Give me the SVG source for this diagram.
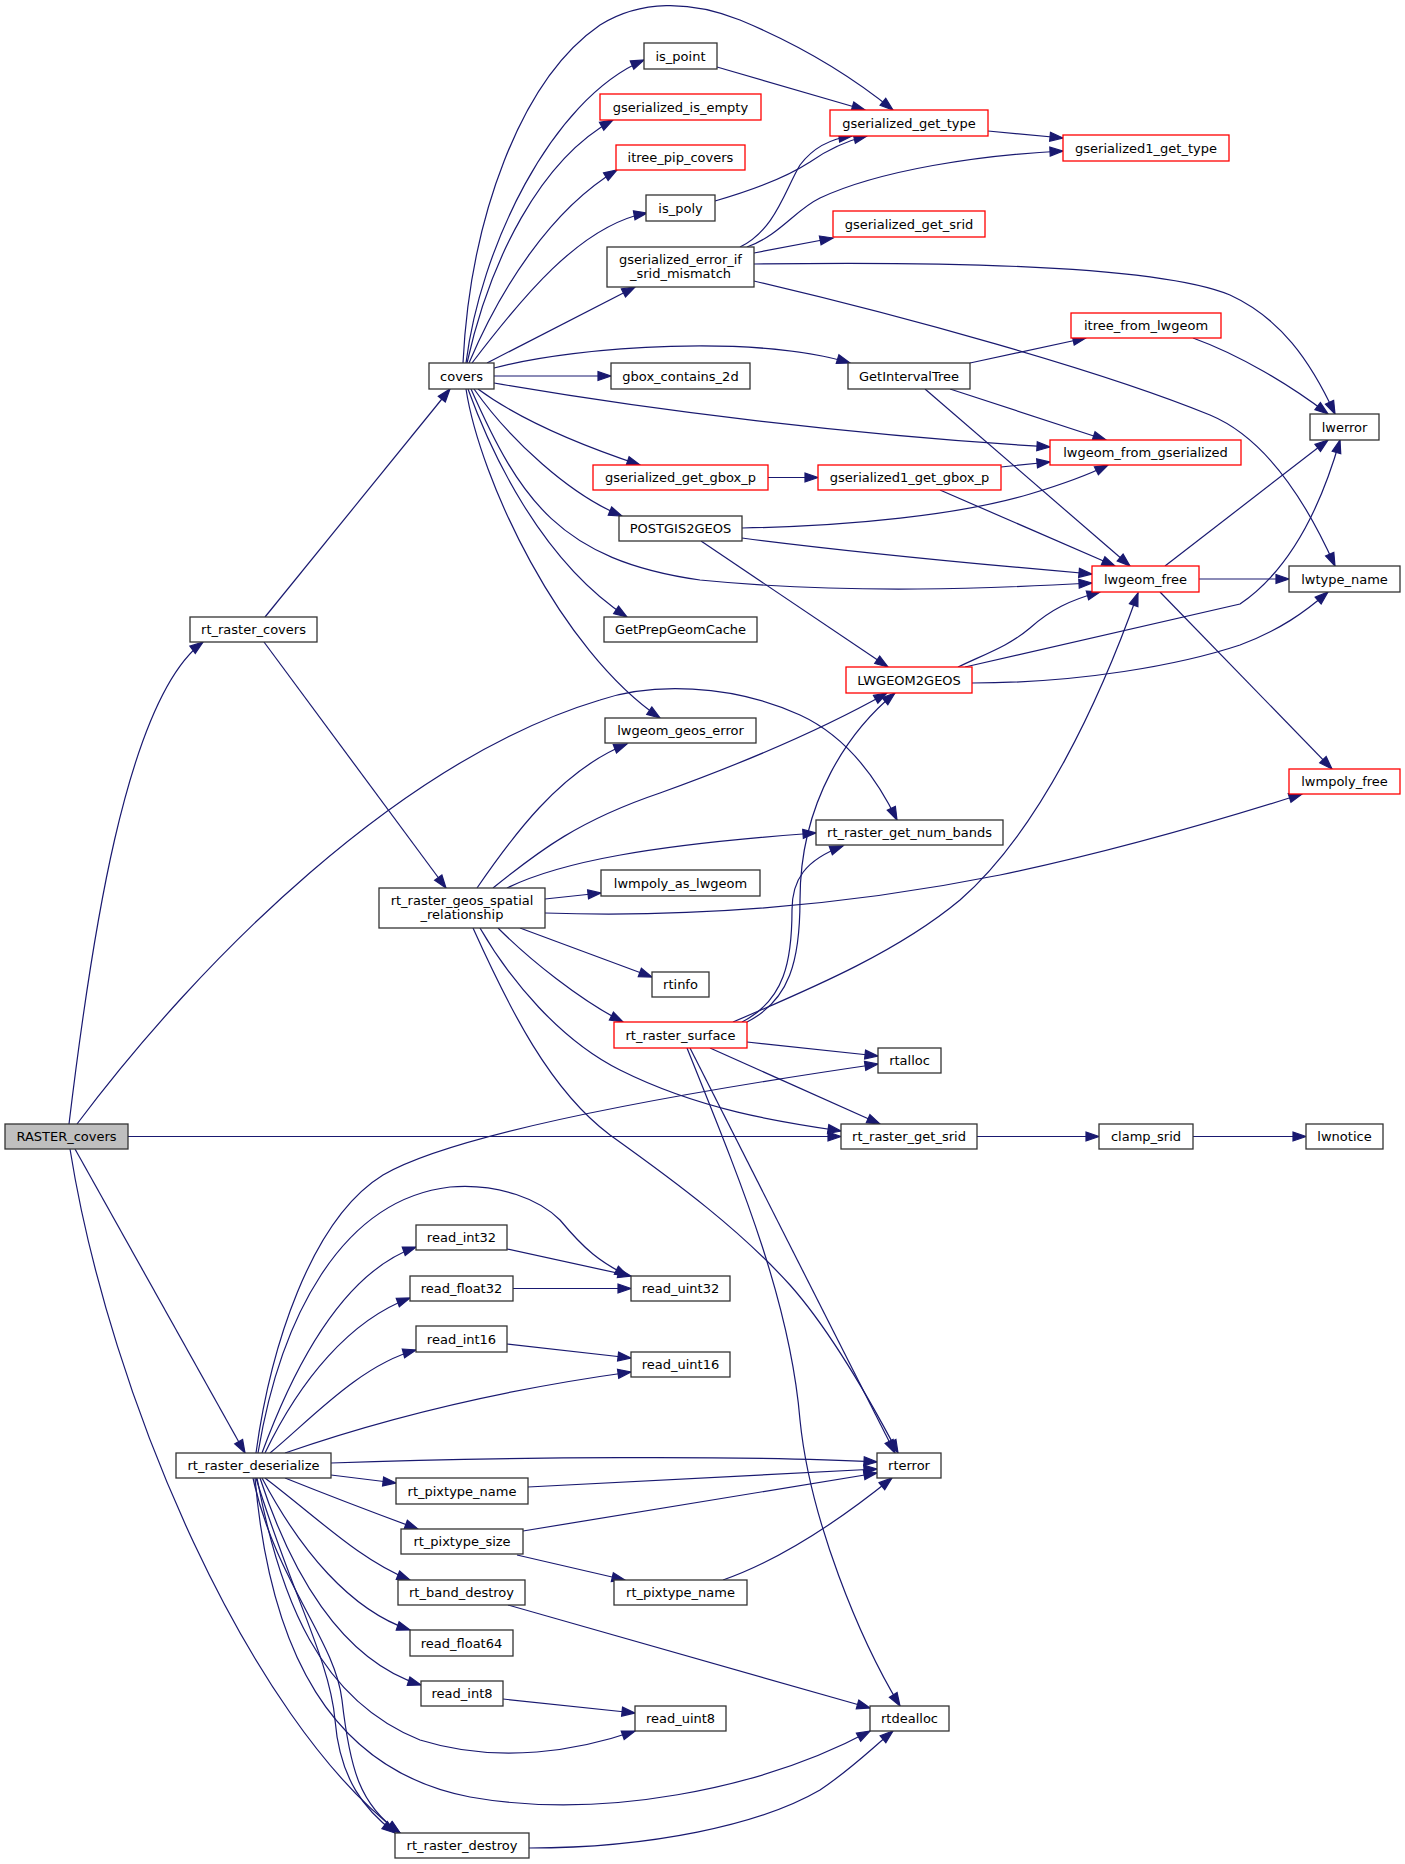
<svg xmlns="http://www.w3.org/2000/svg" width="1405" height="1864" viewBox="0 0 1405 1864">
<style>
.n rect{fill:#fff;stroke:#333333;stroke-width:1.3}
.n.r rect{stroke:#ff0000}
.n.root rect{fill:#bfbfbf}
.n text{font-family:"DejaVu Sans","Liberation Sans",sans-serif;font-size:13px;text-anchor:middle;fill:#000}
.e path{fill:none;stroke:#191970;stroke-width:1.2;marker-end:url(#a)}
</style>
<defs>
<marker id="a" markerUnits="userSpaceOnUse" markerWidth="14" markerHeight="11" refX="13" refY="5" orient="auto" overflow="visible">
<path d="M0,0.5 L13,5 L0,9.5 z" fill="#191970" stroke="#191970" stroke-width="1.2"/>
</marker>
</defs>
<rect width="1405" height="1864" fill="#fff"/>
<g id="edges" class="e">
<path d="M69,1124 C90,950 125,700 203,642"/>
<path d="M77,1124 C200,960 400,760 600,700 C650,683 730,683 800,715 C850,738 880,785 897,820"/>
<path d="M128,1136.5 L841,1136.5"/>
<path d="M75,1149 L245,1453"/>
<path d="M70,1149 C110,1400 250,1720 400,1833"/>
<path d="M265,617 L450,389"/>
<path d="M264,642 L446,888"/>
<path d="M463,363 C470,220 520,80 600,25 C640,0 690,0 740,20 C800,45 850,75 893,110"/>
<path d="M466,363 C480,250 550,100 644,60"/>
<path d="M467,363 C490,260 540,160 613,120"/>
<path d="M469,363 C500,290 550,210 617,170"/>
<path d="M472,363 C520,300 580,225 647,213"/>
<path d="M487,363 L635,287"/>
<path d="M494,368 C580,345 760,335 850,363"/>
<path d="M494,376 L611,376"/>
<path d="M494,383 C650,410 850,435 1050,447"/>
<path d="M478,389 C520,420 580,445 640,465"/>
<path d="M474,389 C510,440 570,495 622,516"/>
<path d="M471,389 C520,500 560,560 700,580 C850,595 1000,588 1092,583"/>
<path d="M468,389 C490,450 540,560 627,617"/>
<path d="M466,389 C480,480 560,650 660,718"/>
<path d="M717,67 L865,110"/>
<path d="M715,201 C760,188 790,175 810,162 C830,148 850,140 867,136"/>
<path d="M740,247 C775,230 785,190 800,165 C815,145 835,138 852,136"/>
<path d="M747,247 C780,235 795,210 820,198 C880,170 980,155 1063,151"/>
<path d="M754,253 L833,238"/>
<path d="M754,264 C900,262 1150,262 1230,295 C1280,318 1310,360 1335,414"/>
<path d="M754,281 C900,315 1100,370 1210,415 C1270,440 1310,510 1335,566"/>
<path d="M988,131 L1063,138"/>
<path d="M970,363 L1086,338"/>
<path d="M950,389 L1106,440"/>
<path d="M925,389 L1130,566"/>
<path d="M1193,338 C1240,355 1290,385 1328,414"/>
<path d="M768,477.5 L818,477.5"/>
<path d="M1001,467 L1050,462"/>
<path d="M940,490 L1115,566"/>
<path d="M742,528 C850,526 960,515 1030,494 C1060,485 1090,474 1108,465"/>
<path d="M742,538 C850,552 1000,566 1092,574"/>
<path d="M701,541 L888,667"/>
<path d="M1165,566 L1328,440"/>
<path d="M1199,579 L1289,579"/>
<path d="M1160,592 L1332,769"/>
<path d="M958,667 C990,652 1010,645 1030,628 C1050,610 1070,600 1100,592"/>
<path d="M965,667 L1240,604 C1290,570 1320,510 1340,440"/>
<path d="M972,683 C1080,683 1180,665 1240,645 C1280,630 1305,612 1328,592"/>
<path d="M477,888 C510,840 560,770 627,744"/>
<path d="M493,888 C540,850 580,820 660,793 C760,757 830,725 887,693"/>
<path d="M507,888 C560,862 650,845 816,833"/>
<path d="M545,899 L601,893"/>
<path d="M545,913 C700,918 850,905 1000,875 C1120,850 1220,820 1302,794"/>
<path d="M520,928 L652,977"/>
<path d="M498,928 C530,960 580,1000 623,1022"/>
<path d="M480,928 C510,980 560,1040 620,1070 C700,1110 780,1122 841,1131"/>
<path d="M473,928 C510,1010 550,1090 610,1135 C680,1185 740,1230 790,1285 C830,1330 870,1400 898,1453"/>
<path d="M747,1022 C790,1000 800,960 800,900 C800,800 850,730 895,693"/>
<path d="M742,1022 C785,1000 792,960 792,910 C792,880 805,860 843,846"/>
<path d="M733,1022 C820,985 900,950 960,900 C1040,830 1100,700 1138,593"/>
<path d="M747,1042 L878,1056"/>
<path d="M710,1048 L880,1124"/>
<path d="M690,1048 L895,1453"/>
<path d="M687,1048 C740,1180 790,1300 800,1420 C810,1520 860,1640 900,1706"/>
<path d="M977,1136.5 L1099,1136.5"/>
<path d="M1193,1136.5 L1306,1136.5"/>
<path d="M256,1453 C270,1350 310,1220 383,1175 C460,1130 700,1090 878,1064"/>
<path d="M258,1453 C280,1320 340,1200 450,1187 C500,1183 540,1200 560,1220 C585,1250 600,1262 628,1276"/>
<path d="M262,1453 C300,1350 350,1270 416,1247"/>
<path d="M265,1453 C300,1380 350,1320 410,1298"/>
<path d="M270,1453 C310,1420 360,1365 416,1350"/>
<path d="M285,1453 C380,1420 500,1390 631,1372"/>
<path d="M331,1463 C500,1457 750,1455 877,1462"/>
<path d="M331,1475 L396,1483"/>
<path d="M285,1478 C340,1500 380,1515 418,1529"/>
<path d="M265,1478 C320,1520 360,1560 410,1580"/>
<path d="M262,1478 C300,1550 350,1610 410,1630"/>
<path d="M260,1478 C290,1570 340,1660 421,1685"/>
<path d="M257,1478 C280,1600 320,1700 420,1740 C500,1765 580,1750 635,1731"/>
<path d="M255,1478 C270,1650 330,1770 470,1797 C600,1820 760,1790 870,1731"/>
<path d="M253,1478 C275,1580 335,1640 342,1700 C350,1770 360,1805 400,1833"/>
<path d="M256,1478 C290,1590 330,1660 335,1720 C340,1780 365,1810 395,1833"/>
<path d="M528,1487 L877,1469"/>
<path d="M523,1531 L877,1473"/>
<path d="M517,1555 L625,1580"/>
<path d="M723,1580 C780,1560 840,1520 892,1478"/>
<path d="M508,1605 L870,1708"/>
<path d="M503,1699 L635,1713"/>
<path d="M507,1249 L631,1276"/>
<path d="M513,1288.5 L631,1288.5"/>
<path d="M507,1344 L631,1358"/>
<path d="M529,1848 C650,1848 760,1825 820,1790 C850,1770 870,1750 893,1731"/>
</g>
<g id="RASTER_covers" class="n root"><rect x="5" y="1124" width="123" height="25"/><text x="66.5" y="1141">RASTER_covers</text></g>
<g id="rt_raster_covers" class="n"><rect x="190" y="617" width="127" height="25"/><text x="253.5" y="634">rt_raster_covers</text></g>
<g id="covers" class="n"><rect x="429" y="363" width="65" height="26"/><text x="461.5" y="380.5">covers</text></g>
<g id="is_point" class="n"><rect x="644" y="43" width="73" height="26"/><text x="680.5" y="60.5">is_point</text></g>
<g id="gserialized_is_empty" class="n r"><rect x="600" y="94" width="161" height="26"/><text x="680.5" y="111.5">gserialized_is_empty</text></g>
<g id="itree_pip_covers" class="n r"><rect x="616" y="145" width="129" height="25"/><text x="680.5" y="162">itree_pip_covers</text></g>
<g id="is_poly" class="n"><rect x="646" y="195" width="69" height="26"/><text x="680.5" y="212.5">is_poly</text></g>
<g id="gserialized_error_if_srid_mismatch" class="n"><rect x="607" y="247" width="147" height="40"/><text x="680.5" y="264">gserialized_error_if</text><text x="680.5" y="278">_srid_mismatch</text></g>
<g id="gbox_contains_2d" class="n"><rect x="611" y="363" width="139" height="26"/><text x="680.5" y="380.5">gbox_contains_2d</text></g>
<g id="GetIntervalTree" class="n"><rect x="848" y="363" width="122" height="26"/><text x="909" y="380.5">GetIntervalTree</text></g>
<g id="gserialized_get_type" class="n r"><rect x="830" y="110" width="158" height="26"/><text x="909" y="127.5">gserialized_get_type</text></g>
<g id="gserialized_get_gbox_p" class="n r"><rect x="593" y="465" width="175" height="25"/><text x="680.5" y="482">gserialized_get_gbox_p</text></g>
<g id="gserialized1_get_gbox_p" class="n r"><rect x="818" y="465" width="183" height="25"/><text x="909.5" y="482">gserialized1_get_gbox_p</text></g>
<g id="gserialized_get_srid" class="n r"><rect x="833" y="211" width="152" height="26"/><text x="909" y="228.5">gserialized_get_srid</text></g>
<g id="gserialized1_get_type" class="n r"><rect x="1063" y="135" width="166" height="26"/><text x="1146" y="152.5">gserialized1_get_type</text></g>
<g id="itree_from_lwgeom" class="n r"><rect x="1071" y="313" width="150" height="25"/><text x="1146" y="330">itree_from_lwgeom</text></g>
<g id="lwerror" class="n"><rect x="1310" y="414" width="69" height="26"/><text x="1344.5" y="431.5">lwerror</text></g>
<g id="lwgeom_from_gserialized" class="n r"><rect x="1050" y="440" width="191" height="25"/><text x="1145.5" y="457">lwgeom_from_gserialized</text></g>
<g id="POSTGIS2GEOS" class="n"><rect x="619" y="516" width="123" height="25"/><text x="680.5" y="533">POSTGIS2GEOS</text></g>
<g id="GetPrepGeomCache" class="n"><rect x="604" y="617" width="153" height="25"/><text x="680.5" y="634">GetPrepGeomCache</text></g>
<g id="LWGEOM2GEOS" class="n r"><rect x="846" y="667" width="126" height="26"/><text x="909" y="684.5">LWGEOM2GEOS</text></g>
<g id="lwgeom_geos_error" class="n"><rect x="605" y="718" width="151" height="25"/><text x="680.5" y="735">lwgeom_geos_error</text></g>
<g id="rt_raster_get_num_bands" class="n"><rect x="816" y="820" width="187" height="25"/><text x="909.5" y="837">rt_raster_get_num_bands</text></g>
<g id="lwmpoly_as_lwgeom" class="n"><rect x="601" y="870" width="159" height="26"/><text x="680.5" y="887.5">lwmpoly_as_lwgeom</text></g>
<g id="lwgeom_free" class="n r"><rect x="1092" y="566" width="107" height="26"/><text x="1145.5" y="583.5">lwgeom_free</text></g>
<g id="lwtype_name" class="n"><rect x="1289" y="566" width="111" height="26"/><text x="1344.5" y="583.5">lwtype_name</text></g>
<g id="lwmpoly_free" class="n r"><rect x="1289" y="769" width="111" height="25"/><text x="1344.5" y="786">lwmpoly_free</text></g>
<g id="rt_raster_geos_spatial_relationship" class="n"><rect x="379" y="888" width="166" height="40"/><text x="462" y="905">rt_raster_geos_spatial</text><text x="462" y="919">_relationship</text></g>
<g id="rtinfo" class="n"><rect x="652" y="972" width="57" height="25"/><text x="680.5" y="989">rtinfo</text></g>
<g id="rt_raster_surface" class="n r"><rect x="614" y="1022" width="133" height="26"/><text x="680.5" y="1039.5">rt_raster_surface</text></g>
<g id="rtalloc" class="n"><rect x="878" y="1048" width="63" height="25"/><text x="909.5" y="1065">rtalloc</text></g>
<g id="rt_raster_get_srid" class="n"><rect x="841" y="1124" width="136" height="25"/><text x="909" y="1141">rt_raster_get_srid</text></g>
<g id="clamp_srid" class="n"><rect x="1099" y="1124" width="94" height="25"/><text x="1146" y="1141">clamp_srid</text></g>
<g id="lwnotice" class="n"><rect x="1306" y="1124" width="77" height="25"/><text x="1344.5" y="1141">lwnotice</text></g>
<g id="read_int32" class="n"><rect x="416" y="1225" width="91" height="25"/><text x="461.5" y="1242">read_int32</text></g>
<g id="read_float32" class="n"><rect x="410" y="1276" width="103" height="25"/><text x="461.5" y="1293">read_float32</text></g>
<g id="read_int16" class="n"><rect x="416" y="1326" width="91" height="26"/><text x="461.5" y="1343.5">read_int16</text></g>
<g id="read_uint32" class="n"><rect x="631" y="1276" width="99" height="25"/><text x="680.5" y="1293">read_uint32</text></g>
<g id="read_uint16" class="n"><rect x="631" y="1352" width="99" height="25"/><text x="680.5" y="1369">read_uint16</text></g>
<g id="rt_raster_deserialize" class="n"><rect x="176" y="1453" width="155" height="25"/><text x="253.5" y="1470">rt_raster_deserialize</text></g>
<g id="rterror" class="n"><rect x="877" y="1453" width="64" height="25"/><text x="909" y="1470">rterror</text></g>
<g id="rt_pixtype_name_a" class="n"><rect x="396" y="1478" width="132" height="26"/><text x="462" y="1495.5">rt_pixtype_name</text></g>
<g id="rt_pixtype_size" class="n"><rect x="401" y="1529" width="122" height="25"/><text x="462" y="1546">rt_pixtype_size</text></g>
<g id="rt_band_destroy" class="n"><rect x="398" y="1580" width="127" height="25"/><text x="461.5" y="1597">rt_band_destroy</text></g>
<g id="rt_pixtype_name_b" class="n"><rect x="614" y="1580" width="133" height="25"/><text x="680.5" y="1597">rt_pixtype_name</text></g>
<g id="read_float64" class="n"><rect x="410" y="1630" width="103" height="26"/><text x="461.5" y="1647.5">read_float64</text></g>
<g id="read_int8" class="n"><rect x="421" y="1681" width="82" height="25"/><text x="462" y="1698">read_int8</text></g>
<g id="read_uint8" class="n"><rect x="635" y="1706" width="91" height="25"/><text x="680.5" y="1723">read_uint8</text></g>
<g id="rtdealloc" class="n"><rect x="870" y="1706" width="79" height="25"/><text x="909.5" y="1723">rtdealloc</text></g>
<g id="rt_raster_destroy" class="n"><rect x="395" y="1833" width="134" height="25"/><text x="462" y="1850">rt_raster_destroy</text></g>
</svg>
